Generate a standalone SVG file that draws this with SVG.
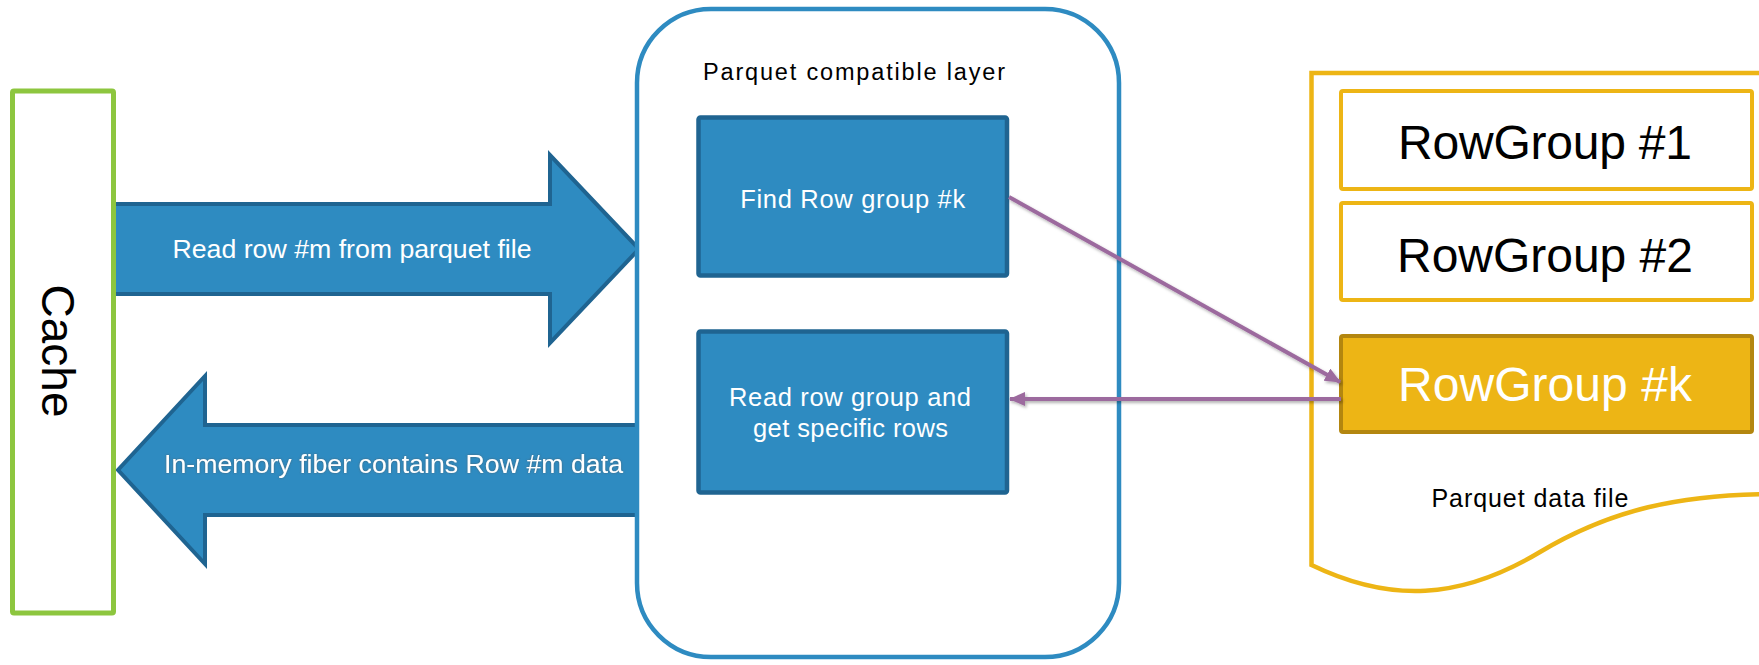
<svg xmlns="http://www.w3.org/2000/svg" width="1759" height="665" viewBox="0 0 1759 665">
  <defs>
    <style>
      text { font-family: "Liberation Sans", Arial, sans-serif; }
      .blue-arrow { fill: #2E8BC1; stroke: #1F6491; stroke-width: 4; stroke-linejoin: miter; }
      .blue-box { fill: #2E8BC1; stroke: #1F6491; stroke-width: 4.5; }
      .white-label { fill: #FFFFFF; text-anchor: middle; }
      .dark-label { fill: #000000; text-anchor: middle; }
      .rg-plain { fill: #FFFFFF; stroke: #EDB515; stroke-width: 4; }
      .rg-hot { fill: #EDB515; stroke: #B3860F; stroke-width: 4; }
      .link { fill: none; stroke: #9C6A9E; stroke-width: 4; }
    </style>
    <marker id="purple-head" viewBox="0 0 16 14" refX="15" refY="7" markerWidth="16" markerHeight="14" markerUnits="userSpaceOnUse" orient="auto">
      <path d="M0,0 L16,7 L0,14 Z" fill="#9C6A9E"/>
    </marker>
    <filter id="soft-shadow" x="-5%" y="-20%" width="110%" height="140%">
      <feDropShadow dx="1.5" dy="2" stdDeviation="1.5" flood-color="#000" flood-opacity="0.3"/>
    </filter>
    <filter id="text-halo" x="-5%" y="-30%" width="110%" height="160%">
      <feDropShadow dx="0" dy="0" stdDeviation="1" flood-color="#555" flood-opacity="0.7"/>
    </filter>
  </defs>

  <!-- Wide block arrows between the cache and the compatibility layer -->
  <g id="arrow-read-request">
    <path class="blue-arrow" d="M114,204 H550 V155 L639,249 L550,343 V294 H114 Z"/>
    <text class="white-label" x="352" y="258" font-size="25.5" textLength="359" lengthAdjust="spacingAndGlyphs">Read row #m from parquet file</text>
  </g>
  <g id="arrow-fiber-return">
    <path class="blue-arrow" d="M640,425 H205 V376 L118,470 L205,564 V515 H640 Z"/>
    <text class="white-label" x="393.5" y="473" font-size="25.5" textLength="459" lengthAdjust="spacingAndGlyphs" filter="url(#text-halo)">In-memory fiber contains Row #m data</text>
  </g>

  <!-- Cache column -->
  <g id="cache">
    <rect x="12.5" y="91" width="101" height="522" fill="#FFFFFF" stroke="#8DC63F" stroke-width="5" rx="1.5"/>
    <text class="dark-label" transform="translate(42,351) rotate(90)" x="0" y="0" font-size="46">Cache</text>
  </g>

  <!-- Parquet compatible layer -->
  <g id="compat-layer">
    <rect x="637" y="9" width="482" height="648" rx="74" ry="74" fill="#FFFFFF" stroke="#2E8BC1" stroke-width="4.5"/>
    <text class="dark-label" x="854" y="80" font-size="23.5" textLength="302" lengthAdjust="spacing">Parquet compatible layer</text>
  </g>
  <g id="find-row-group">
    <rect class="blue-box" x="698.5" y="117.5" width="308.5" height="158" rx="2"/>
    <text class="white-label" x="852.7" y="208" font-size="25.5" textLength="225" lengthAdjust="spacing">Find Row group #k</text>
  </g>
  <g id="read-row-group">
    <rect class="blue-box" x="698.5" y="331.5" width="308.5" height="161" rx="2"/>
    <text class="white-label" x="850" y="406" font-size="25.5" textLength="242" lengthAdjust="spacing">Read row group and</text>
    <text class="white-label" x="850.5" y="437" font-size="25.5" textLength="195" lengthAdjust="spacing">get specific rows</text>
  </g>

  <!-- Parquet data file with its row groups -->
  <g id="data-file">
    <path d="M1311.5,565 V73 H1775 V494 C1680,494 1610,510 1540,552 C1460,600 1390,603 1311.5,565 Z" fill="#FFFFFF" stroke="#EDB515" stroke-width="4.5" stroke-linejoin="miter"/>
    <text class="dark-label" x="1530" y="507" font-size="25" textLength="197" lengthAdjust="spacing">Parquet data file</text>
  </g>
  <g id="rowgroup-1">
    <rect class="rg-plain" x="1341" y="91" width="411" height="98" rx="2"/>
    <text class="dark-label" x="1545" y="159" font-size="48" textLength="294" lengthAdjust="spacing">RowGroup #1</text>
  </g>
  <g id="rowgroup-2">
    <rect class="rg-plain" x="1341" y="203" width="411" height="97" rx="2"/>
    <text class="dark-label" x="1545" y="271.5" font-size="48" textLength="296" lengthAdjust="spacing">RowGroup #2</text>
  </g>
  <g id="rowgroup-k">
    <rect class="rg-hot" x="1341" y="336" width="411" height="96" rx="2"/>
    <text class="white-label" x="1545" y="400.5" font-size="48" textLength="294" lengthAdjust="spacing">RowGroup #k</text>
  </g>

  <!-- Lookup and read-back connectors -->
  <g id="connectors" filter="url(#soft-shadow)">
    <line class="link" x1="1009" y1="197" x2="1340" y2="382" marker-end="url(#purple-head)"/>
    <line class="link" x1="1341" y1="399" x2="1010" y2="399" marker-end="url(#purple-head)"/>
  </g>
</svg>
